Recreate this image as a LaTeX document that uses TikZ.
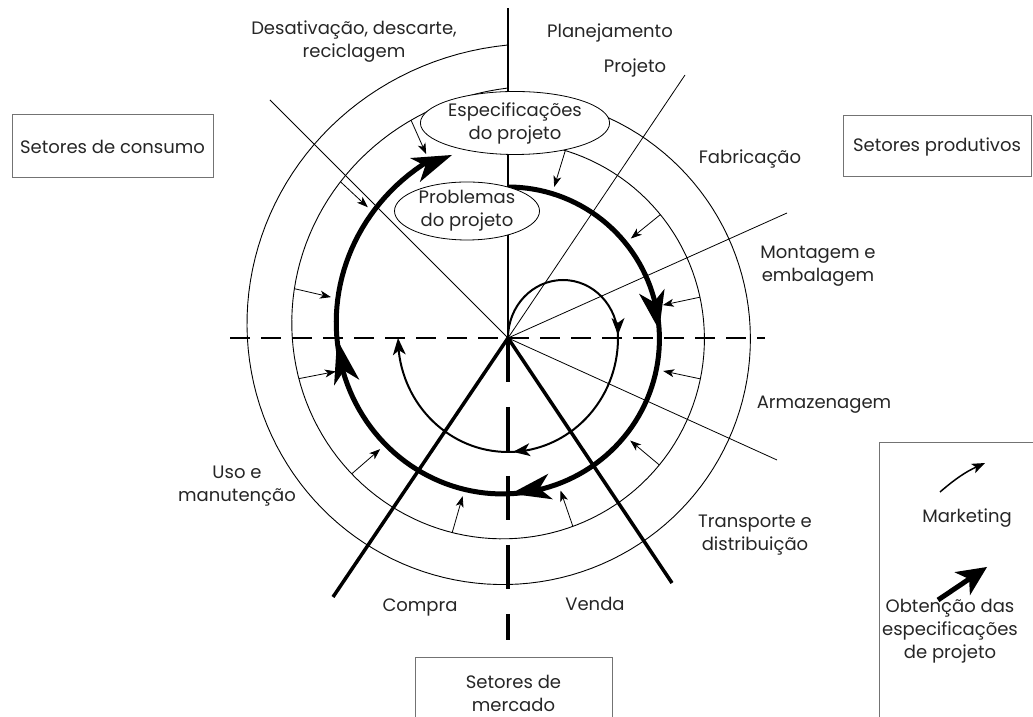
\documentclass[tikz,border=0pt]{standalone}
\usepackage{fontspec}
\setmainfont{Poppins}
\usetikzlibrary{arrows.meta,calc,shapes.geometric}
\pgfmathdeclarefunction{rthk}{1}{\pgfmathparse{151+55*((#1)/360)^3*sqrt((#1)/360)}}
\pgfmathdeclarefunction{rmid}{1}{\pgfmathparse{196+54*((#1)/360)^3*sqrt((#1)/360)}}
\pgfmathdeclarefunction{rout}{1}{\pgfmathparse{242+51*((#1)/360)^3*sqrt((#1)/360)}}
\newcommand\ahead[3]{\fill #2 -- ($#1!#3!90:#2$) -- ($#2!0.72!#1$) -- ($#1!#3!-90:#2$) -- cycle;}
\begin{document}
\begin{tikzpicture}[x=1pt,y=1pt,
  lbl/.style={font=\fontsize{18}{23}\selectfont, align=center, inner sep=0pt, text=black!85},
  radial/.style={line width=0.8pt},
  spir/.style={line width=0.9pt},
  hdash/.style={line width=1.5pt, dash pattern=on 20pt off 11pt},
  vdash/.style={line width=3.5pt, dash pattern=on 44pt off 25pt},
  heavy/.style={line width=3.5pt},
  thk/.style={line width=5pt},
  loopln/.style={line width=2pt},
  mkt/.style={line width=0.8pt, -{Stealth[length=11pt,width=8pt,inset=3pt]}},
  box/.style={draw=black!55, line width=1pt, rectangle, inner sep=0pt, align=center,
              font=\fontsize{18}{23}\selectfont, text=black!85},
  ell/.style={draw, ellipse, fill=white, line width=0.8pt, inner sep=0pt, align=center,
              font=\fontsize{18}{23}\selectfont, text=black!85}]
\useasboundingbox (0,0) rectangle (1033,717);
\clip (0,0) rectangle (1033,717);
\fill[white] (0,0) rectangle (1033,717);
% key points
\coordinate (C) at (508,379);
\coordinate (rDes) at (270,617);
\coordinate (rPro) at (685,642);
\coordinate (rMon) at (787,504);
\coordinate (rArm) at (777,257);
\coordinate (hL) at (230,379);
\coordinate (hR) at (765,379);
\coordinate (vT) at (508,709);
\coordinate (vB) at (508,77);
\coordinate (cmp) at (333,120);
\coordinate (vnd) at (672,134);
% radial lines
\draw[radial] (C) -- (rDes);
\draw[radial] (C) -- (rPro);
\draw[radial] (C) -- (rMon);
\draw[radial] (C) -- (rArm);
\draw[hdash] (hL) -- (hR);
\draw[line width=1.5pt] (C) -- (vT);
\draw[vdash] (C) -- (vB);
\draw[heavy] (C) -- (cmp);
\draw[heavy] (C) -- (vnd);
% spirals
\draw[spir] plot[domain=0:360,samples=145,variable=\t] ({508+rout(\t)*sin(\t)},{379+rout(\t)*cos(\t)});
\draw[spir] plot[domain=0:360,samples=145,variable=\t] ({508+rmid(\t)*sin(\t)},{379+rmid(\t)*cos(\t)});
\draw[thk] plot[domain=0:336,samples=140,variable=\t] ({508+rthk(\t)*sin(\t)},{379+rthk(\t)*cos(\t)});
% inner loop
\draw[loopln] (C) arc[start angle=180,end angle=0,x radius=55,y radius=58]
   arc[start angle=0,end angle=-176,x radius=110,y radius=114];
\ahead{(618,399)}{(618,382)}{6.5pt}
\ahead{(530,267.3)}{(513,265.1)}{6.5pt}
\ahead{(399.3,362)}{(398,379)}{6.5pt}
% marketing arrows
\foreach \a [count=\i] in {17,51,78,102,130,161,196,229,259,283,313,336} {
  \pgfmathsetmacro\ra{rmid(\a)}
  \pgfmathsetmacro\rb{rthk(\a)+7}
  \coordinate (ms\i) at ({508+\ra*sin(\a)},{379+\ra*cos(\a)});
  \coordinate (me\i) at ({508+\rb*sin(\a)},{379+\rb*cos(\a)});
  \draw[mkt] (ms\i) -- (me\i);
}
% ellipses
\node[ell, minimum width=185pt, minimum height=63pt] (esp) at (515,594) {Especificações\\do projeto};
\node[ell, minimum width=145pt, minimum height=58pt] (prob) at (467,506) {Problemas\\do projeto};
% thick arrow heads
\foreach \a [count=\i] in {87,179,269.5} {
  \coordinate (hT\i) at ({508+rthk(\a)*sin(\a)},{379+rthk(\a)*cos(\a)});
  \coordinate (hE\i) at ({508+rthk(\a-15)*sin(\a-15)},{379+rthk(\a-15)*cos(\a-15)});
  \ahead{(hE\i)}{(hT\i)}{13pt}
}
\coordinate (hE4) at ({508+rthk(331)*sin(331)},{379+rthk(331)*cos(331)});
\coordinate (hT4) at (452,562);
\ahead{(hE4)}{(hT4)}{13pt}
% labels
\node[lbl] (desat) at (354,675) {Desativação, descarte,\\reciclagem};
\node[lbl] (plan) at (610,684) {Planejamento};
\node[lbl] (proj) at (635,649) {Projeto};
\node[lbl] (fabr) at (750,558) {Fabricação};
\node[lbl] (mont) at (818,451) {Montagem e\\embalagem};
\node[lbl] (armz) at (824,312) {Armazenagem};
\node[lbl] (trans) at (755,182) {Transporte e\\distribuição};
\node[lbl] (uso) at (237,231) {Uso e\\manutenção};
\node[lbl] (compra) at (420,110) {Compra};
\node[lbl] (venda) at (595,113) {Venda};
% boxes
\node[box, minimum width=201pt, minimum height=63pt] (cons) at (112.5,570.5) {Setores de consumo};
\node[box, minimum width=188pt, minimum height=61pt] (prod) at (937,570.5) {Setores produtivos};
\node[box, minimum width=197pt, minimum height=70pt] (merc) at (513.5,24) {Setores de\\mercado};
\node[box, minimum width=170pt, minimum height=300pt] (leg) at (964,124) {};
% legend
\node[lbl] (mk) at (967,199) {Marketing};
\node[lbl] (ob) at (950,86) {Obtenção das\\especificações\\de projeto};
\coordinate (la1) at (940,225);
\coordinate (la2) at (985,254);
\draw[line width=1.5pt, -{Stealth[length=13pt,width=10pt,inset=3pt]}] (la1) to[bend left=8] (la2);
\coordinate (lb1) at (938,117);
\coordinate (lb2) at (987,150);
\coordinate (lbE) at ($(lb2)!30pt!(lb1)$);
\coordinate (lbM) at ($(lbE)!0.5!(lb2)$);
\draw[line width=5pt] (lb1) -- (lbM);
\ahead{(lbE)}{(lb2)}{14pt}
\end{tikzpicture}
\end{document}
